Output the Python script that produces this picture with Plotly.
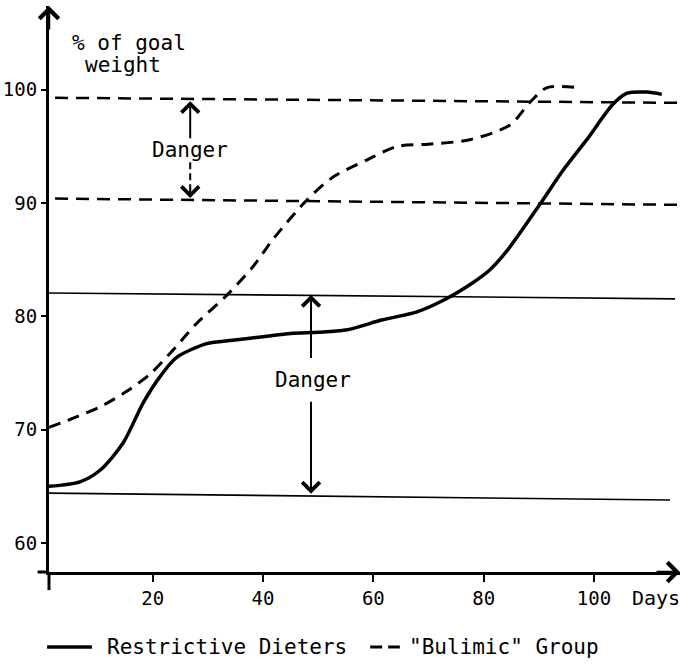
import plotly.graph_objects as go

# ---- data ----
restrictive_days = [1.2, 6.8, 10.4, 14.6, 18.3, 21.5, 24.4, 29.8, 34.5, 40, 45, 50, 55,
                    61.7, 67.9, 72.6, 78.1, 81.1, 84.4, 90.2, 94.4, 98.7, 103.4, 106, 109.6, 112.3]
restrictive_pct = [65.0, 65.4, 66.4, 68.8, 72.4, 74.8, 76.4, 77.6, 77.9, 78.2, 78.5, 78.6, 78.8,
                   79.7, 80.4, 81.4, 83.0, 84.1, 85.9, 89.9, 92.9, 95.6, 98.7, 99.7, 99.8, 99.6]

bulimic_days = [1.2, 5.5, 10.4, 15.0, 19.5, 24.0, 28, 33.5, 38.2, 41.8, 48, 52.7, 58.8,
                64.3, 70, 77.5, 84.8, 88.4, 91.5, 96.9]
bulimic_pct = [70.2, 71.0, 72.0, 73.3, 74.9, 77.2, 79.4, 81.9, 84.4, 86.8, 90.3, 92.3, 93.8,
               95.0, 95.2, 95.6, 96.9, 98.9, 100.2, 100.2]

# danger-zone boundary lines (start/end day, level at start/end)
bulimic_band_days = [2.3, 115.6]
bulimic_band_top = [99.3, 98.85]
bulimic_band_bottom = [90.4, 89.85]
restrictive_band_days = [1.2, 114.7]
restrictive_band_top = [82.07, 81.55]
restrictive_band_bottom_days = [1.2, 113.8]
restrictive_band_bottom = [64.4, 63.8]

x_ticks = [20, 40, 60, 80, 100]
y_ticks = [60, 70, 80, 90, 100]

X_RANGE = [1.2, 115.6]
Y_RANGE = [57.44, 107.4]

FONT = "DejaVu Sans Mono"

fig = go.Figure()

fig.add_trace(go.Scatter(x=bulimic_band_days, y=bulimic_band_top, mode="lines",
                         line=dict(color="black", width=2.5, dash="13px,8px"), showlegend=False))
fig.add_trace(go.Scatter(x=bulimic_band_days, y=bulimic_band_bottom, mode="lines",
                         line=dict(color="black", width=2.5, dash="13px,8px"), showlegend=False))
fig.add_trace(go.Scatter(x=restrictive_band_days, y=restrictive_band_top, mode="lines",
                         line=dict(color="black", width=1.6), showlegend=False))
fig.add_trace(go.Scatter(x=restrictive_band_bottom_days, y=restrictive_band_bottom, mode="lines",
                         line=dict(color="black", width=1.6), showlegend=False))

fig.add_trace(go.Scatter(x=bulimic_days, y=bulimic_pct, mode="lines", name='"Bulimic" Group',
                         line=dict(color="black", width=3, dash="12px,8px", shape="spline", smoothing=0.8),
                         showlegend=False))
fig.add_trace(go.Scatter(x=restrictive_days, y=restrictive_pct, mode="lines", name="Restrictive Dieters",
                         line=dict(color="black", width=3.5, shape="spline", smoothing=0.8),
                         showlegend=False))

ann = []
shapes = []

# axis arrowheads
ann.append(dict(x=X_RANGE[0], y=Y_RANGE[1], xref="x", yref="y", ax=0, ay=25, text="",
                showarrow=True, arrowhead=4, arrowsize=1.5, arrowwidth=2.5, arrowcolor="black"))
ann.append(dict(x=X_RANGE[1], y=Y_RANGE[0], xref="x", yref="y", ax=-25, ay=0, text="",
                showarrow=True, arrowhead=4, arrowsize=1.5, arrowwidth=2.5, arrowcolor="black"))

# axis overhang at origin
shapes.append(dict(type="line", xref="paper", yref="paper", x0=0, x1=0, y0=0, y1=-0.032,
                   line=dict(color="black", width=3)))
shapes.append(dict(type="line", xref="paper", yref="paper", x0=-0.018, x1=0, y0=0, y1=0,
                   line=dict(color="black", width=3)))

# upper "Danger"
ann.append(dict(x=26.8, y=94.7, xref="x", yref="y", text="Danger", showarrow=False,
                font=dict(family=FONT, size=21, color="black")))
ann.append(dict(x=26.8, y=99.0, xref="x", yref="y", ax=26.8, ay=95.6, axref="x", ayref="y",
                text="", showarrow=True, arrowhead=4, arrowsize=1.7, arrowwidth=2, arrowcolor="black"))
shapes.append(dict(type="line", xref="x", yref="y", x0=26.8, x1=26.8, y0=93.6, y1=91.2,
                   line=dict(color="black", width=2, dash="7px,4px")))
ann.append(dict(x=26.8, y=90.45, xref="x", yref="y", ax=26.8, ay=91.4, axref="x", ayref="y",
                text="", showarrow=True, arrowhead=4, arrowsize=1.7, arrowwidth=2, arrowcolor="black"))

# lower "Danger"
ann.append(dict(x=49.1, y=74.4, xref="x", yref="y", text="Danger", showarrow=False,
                font=dict(family=FONT, size=21, color="black")))
ann.append(dict(x=48.7, y=81.9, xref="x", yref="y", ax=48.7, ay=76.2, axref="x", ayref="y",
                text="", showarrow=True, arrowhead=4, arrowsize=1.7, arrowwidth=2, arrowcolor="black"))
ann.append(dict(x=48.7, y=64.35, xref="x", yref="y", ax=48.7, ay=72.6, axref="x", ayref="y",
                text="", showarrow=True, arrowhead=4, arrowsize=1.7, arrowwidth=2, arrowcolor="black"))

# y axis title
ann.append(dict(x=5.0, y=104.15, xref="x", yref="y", text="% of goal", xanchor="left",
                showarrow=False, font=dict(family=FONT, size=21, color="black")))
ann.append(dict(x=7.36, y=102.2, xref="x", yref="y", text="weight", xanchor="left",
                showarrow=False, font=dict(family=FONT, size=21, color="black")))

# x axis title
ann.append(dict(x=0.921, y=-0.046, xref="paper", yref="paper", text="Days", xanchor="left",
                yanchor="middle", showarrow=False, font=dict(family=FONT, size=20, color="black")))

# legend
leg_y = -0.1325
shapes.append(dict(type="line", xref="paper", yref="paper", x0=-0.003, x1=0.068, y0=leg_y, y1=leg_y,
                   line=dict(color="black", width=3.5)))
ann.append(dict(x=0.0887, y=leg_y, xref="paper", yref="paper", text="Restrictive Dieters",
                xanchor="left", yanchor="middle", showarrow=False,
                font=dict(family=FONT, size=21, color="black")))
shapes.append(dict(type="line", xref="paper", yref="paper", x0=0.509, x1=0.556, y0=leg_y, y1=leg_y,
                   line=dict(color="black", width=3, dash="12px,6px")))
ann.append(dict(x=0.567, y=leg_y, xref="paper", yref="paper", text='"Bulimic" Group',
                xanchor="left", yanchor="middle", showarrow=False,
                font=dict(family=FONT, size=21, color="black")))

fig.update_layout(
    width=681, height=670,
    margin=dict(l=49, r=1, t=6, b=98),
    paper_bgcolor="white", plot_bgcolor="white",
    showlegend=False,
    annotations=ann, shapes=shapes,
    xaxis=dict(range=X_RANGE, tickvals=x_ticks, ticktext=[str(v) for v in x_ticks],
               showgrid=False, zeroline=False, showline=True, linecolor="black", linewidth=3,
               ticks="outside", ticklen=7, tickwidth=2, tickcolor="black", automargin=False,
               tickfont=dict(family=FONT, size=19, color="black")),
    yaxis=dict(range=Y_RANGE, tickvals=y_ticks, ticktext=[str(v) for v in y_ticks],
               showgrid=False, zeroline=False, showline=True, linecolor="black", linewidth=3,
               ticks="outside", ticklen=5, tickwidth=2, tickcolor="black", automargin=False,
               tickfont=dict(family=FONT, size=19, color="black")),
)

fig.write_html("out.html", config={"displayModeBar": False},
               post_script="document.body.style.margin='0';")
